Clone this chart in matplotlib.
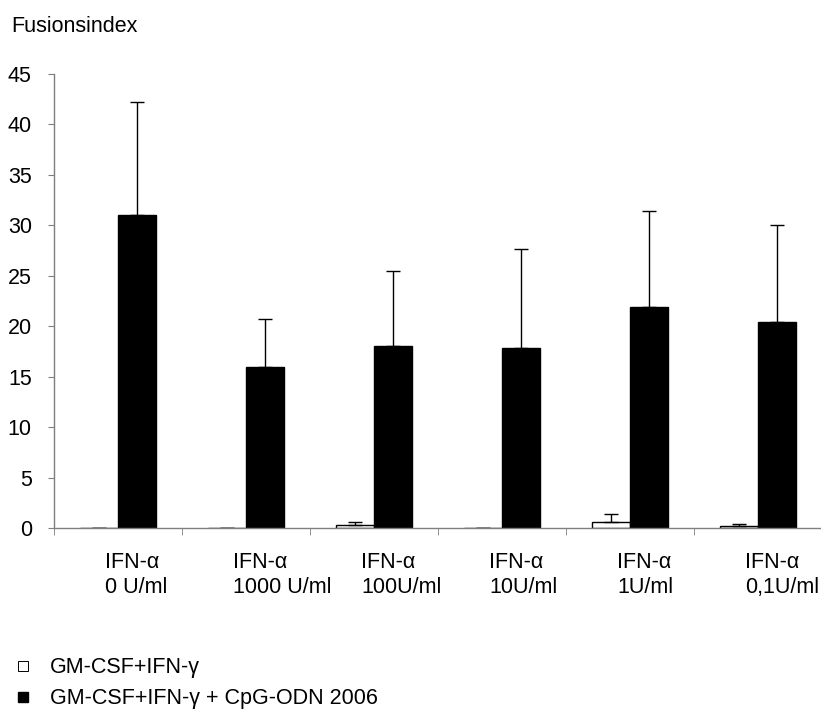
import matplotlib
matplotlib.use("Agg")
import matplotlib.pyplot as plt
import matplotlib.transforms as mtransforms
from matplotlib.lines import Line2D
import numpy as np

plt.rcParams['font.family'] = ['Liberation Sans', 'DejaVu Sans']
FS = 15.5

# data
categories = ["IFN-\u03b1\n0 U/ml", "IFN-\u03b1\n1000 U/ml", "IFN-\u03b1\n100U/ml",
              "IFN-\u03b1\n10U/ml", "IFN-\u03b1\n1U/ml", "IFN-\u03b1\n0,1U/ml"]
series_names = ["GM-CSF+IFN-\u03b3", "GM-CSF+IFN-\u03b3 + CpG-ODN 2006"]
white_vals = [0.0, 0.0, 0.3, 0.0, 0.6, 0.2]
white_err = [0.0, 0.0, 0.25, 0.0, 0.75, 0.2]
black_vals = [31.0, 16.0, 18.0, 17.8, 21.9, 20.4]
black_err = [11.2, 4.7, 7.5, 9.9, 9.5, 9.6]

fig = plt.figure(figsize=(8.21, 7.11), dpi=100)
ax = fig.add_axes([54 / 821, (711 - 528) / 711, 768 / 821, (528 - 74) / 711])

x = np.arange(len(categories))
w = 0.3
ax.bar(x - w / 2, white_vals, w, color="white", edgecolor="black", linewidth=1)
ax.bar(x + w / 2, black_vals, w, color="black", edgecolor="black", linewidth=1)
ekw = dict(fmt="none", ecolor="black", elinewidth=1, capsize=5, capthick=1)
ax.errorbar(x - w / 2, white_vals, yerr=[np.zeros(len(x)), white_err], **ekw)
ax.errorbar(x + w / 2, black_vals, yerr=[np.zeros(len(x)), black_err], **ekw)

ax.set_xlim(-0.5, len(categories) - 0.5)
ax.set_ylim(0, 45)
ax.set_yticks(np.arange(0, 46, 5))

for side in ["top", "right"]:
    ax.spines[side].set_visible(False)
for side in ["left", "bottom"]:
    ax.spines[side].set_color("#7f7f7f")
    ax.spines[side].set_linewidth(1)

ax.tick_params(axis="y", length=4, color="#7f7f7f", pad=12, labelsize=FS)
ax.set_xticks(x)
ax.set_xticklabels([])
ax.tick_params(axis="x", which="major", length=0)
ax.set_xticks(np.arange(-0.5, len(categories), 1), minor=True)
ax.tick_params(axis="x", which="minor", length=5, color="#7f7f7f")

# category labels, left aligned like the original
offset = mtransforms.ScaledTranslation(-13 / 100, 0, fig.dpi_scale_trans)
trans = mtransforms.blended_transform_factory(ax.transData, fig.transFigure) + offset
for xi, lab in zip(x, categories):
    ax.text(xi, (711 - 552) / 711, lab, transform=trans, ha="left", va="top",
            multialignment="left", linespacing=1.27, fontsize=FS)

fig.text(11 / 821, (711 - 26) / 711, "Fusionsindex", fontsize=FS, va="center")

handles = [
    Line2D([], [], marker="s", linestyle="none", markersize=6.5,
           markerfacecolor="white", markeredgecolor="black", markeredgewidth=0.7),
    Line2D([], [], marker="s", linestyle="none", markersize=7.5,
           markerfacecolor="black", markeredgecolor="black"),
]
fig.legend(handles, series_names, loc="upper left", bbox_to_anchor=(-0.009, 0.103),
           frameon=False, fontsize=FS, handletextpad=0.78, labelspacing=0.48,
           handlelength=1.0)

fig.savefig("out.png", dpi=100)
